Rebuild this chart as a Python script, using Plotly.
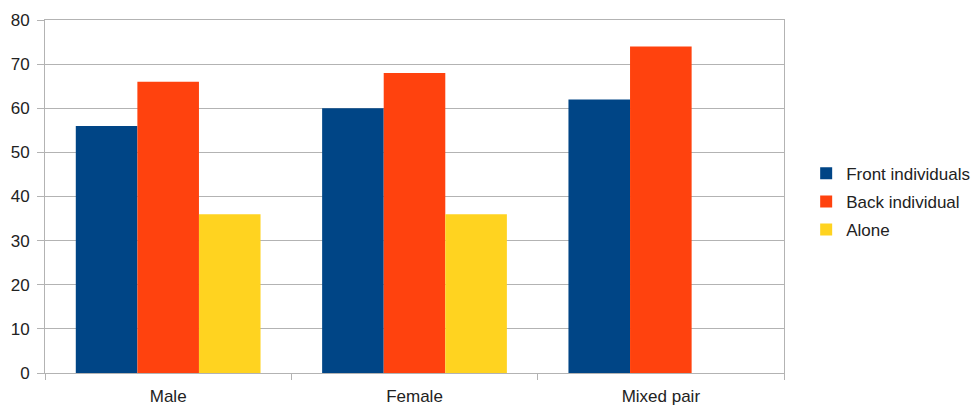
import plotly.graph_objects as go

categories = ["Male", "Female", "Mixed pair"]
front_individuals = [56, 60, 62]
back_individual = [66, 68, 74]
alone = [36, 36, None]

series = [
    ("Front individuals", front_individuals, "#004586"),
    ("Back individual", back_individual, "#ff420e"),
    ("Alone", alone, "#ffd320"),
]

fig = go.Figure()
for i, (name, vals, color) in enumerate(series):
    fig.add_trace(go.Bar(
        x=categories, y=vals, name=name,
        marker=dict(color=color, line=dict(width=0)),
        legendgroup=f"g{i}",
    ))

axis_color = "#b3b3b3"
fig.update_layout(
    width=980, height=405,
    margin=dict(l=45, r=196, t=20, b=32, autoexpand=False),
    paper_bgcolor="white", plot_bgcolor="white",
    barmode="group", bargap=0.25, bargroupgap=0,
    font=dict(family="Liberation Sans, Arial, sans-serif", size=17, color="#222222"),
    showlegend=True,
    legend=dict(
        x=1.03, y=0.485, xanchor="left", yanchor="middle",
        font=dict(size=17), tracegroupgap=3,
        bgcolor="rgba(0,0,0,0)", itemwidth=30,
    ),
    xaxis=dict(
        showline=True, linecolor=axis_color, linewidth=1, mirror=True,
        ticks="outside", tickson="boundaries", ticklen=6, tickcolor=axis_color,
        showgrid=False, ticklabelstandoff=8, automargin=False,
    ),
    yaxis=dict(
        range=[0, 80], dtick=10,
        showline=True, linecolor=axis_color, linewidth=1, mirror=True,
        ticks="outside", ticklen=7, tickcolor=axis_color,
        showgrid=True, gridcolor=axis_color, gridwidth=1,
        zeroline=False, automargin=False, ticklabelstandoff=4,
    ),
)

fig.write_html("out.html")
